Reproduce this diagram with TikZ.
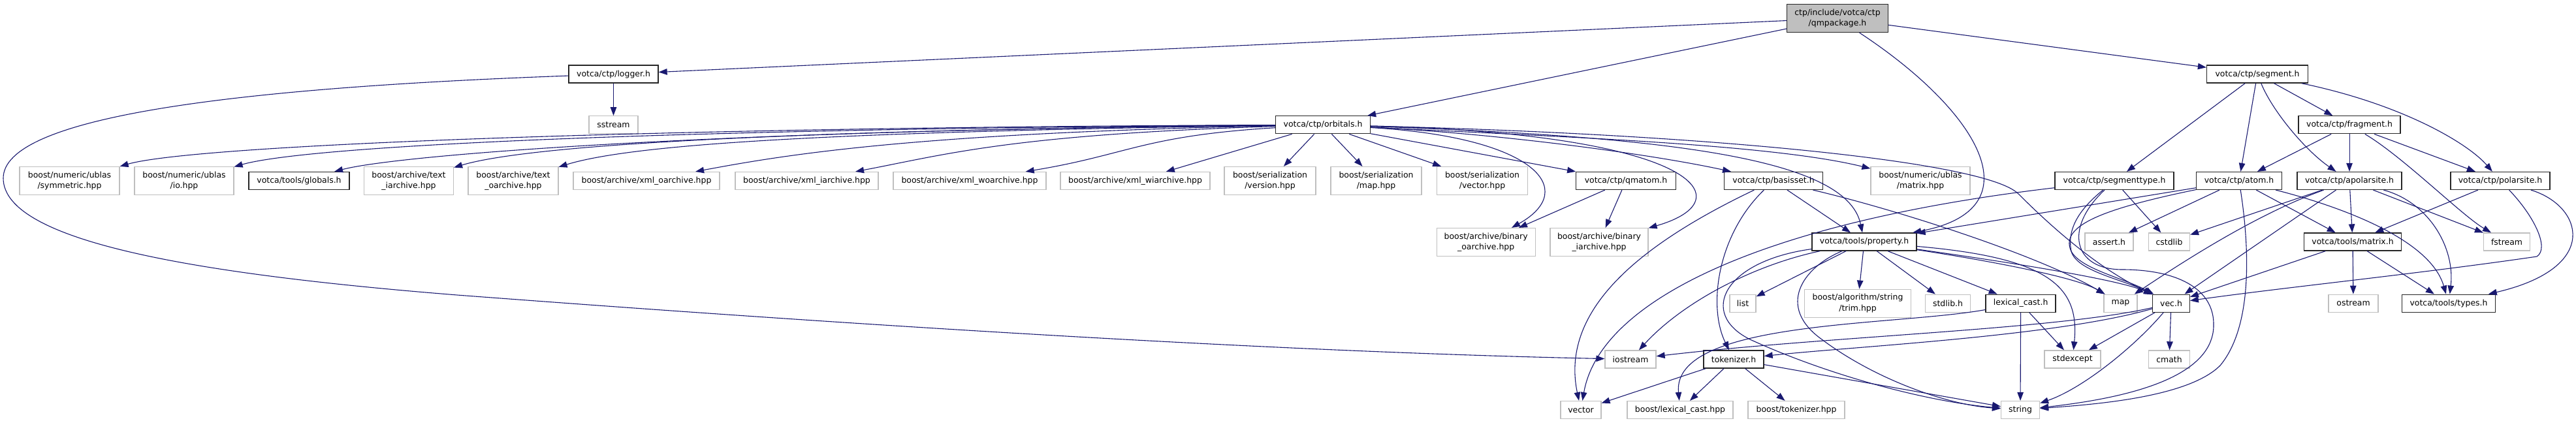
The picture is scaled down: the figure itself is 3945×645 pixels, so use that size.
\documentclass[tikz,border=0pt]{standalone}
\usepackage{fontspec}
\setmainfont{DejaVu Sans}
\usetikzlibrary{arrows.meta}
\definecolor{edgec}{HTML}{191970}
\definecolor{extc}{HTML}{BFBFBF}
\begin{document}
\begin{tikzpicture}[x=1bp,y=-1bp,
  box/.style={rectangle, inner sep=0pt, align=center, fill=white, font=\fontsize{12.5}{16.5}\selectfont},
  ext/.style={box, draw=extc, line width=1.2bp},
  doc/.style={box, draw=black!85, line width=1.3bp},
  root/.style={box, draw=black!85, fill=extc, line width=1.3bp},
  one/.style={minimum height=27bp},
  two/.style={minimum height=43bp},
  conn/.style={draw=edgec, line width=1.1bp, -{Triangle[length=13bp,width=9.5bp]}}
]
\useasboundingbox (0,0) rectangle (3945,645);
% row 0
\node[root,two,minimum width=154.5bp] (qm) at (2814,28) {ctp/include/votca/ctp\\/qmpackage.h};
% row 1
\node[doc,one,minimum width=137bp] (logger) at (939.5,113.6) {votca/ctp/logger.h};
\node[doc,one,minimum width=155bp] (segment) at (3457,113.6) {votca/ctp/segment.h};
% row 2
\node[ext,one,minimum width=75bp] (sstream) at (939.5,191.3) {sstream};
\node[doc,one,minimum width=145bp] (orbitals) at (2026,191.3) {votca/ctp/orbitals.h};
\node[doc,one,minimum width=156bp] (fragment) at (3598,191.3) {votca/ctp/fragment.h};
% row 3
\node[ext,two,minimum width=153bp] (symmetric) at (106.5,277) {boost/numeric/ublas\\/symmetric.hpp};
\node[ext,two,minimum width=152bp] (io) at (282,277) {boost/numeric/ublas\\/io.hpp};
\node[doc,one,minimum width=154bp] (globals) at (458,277) {votca/tools/globals.h};
\node[ext,two,minimum width=137bp] (textia) at (626,277) {boost/archive/text\\\_iarchive.hpp};
\node[ext,two,minimum width=138bp] (textoa) at (786,277) {boost/archive/text\\\_oarchive.hpp};
\node[ext,one,minimum width=224bp] (xmloa) at (990,277) {boost/archive/xml\_oarchive.hpp};
\node[ext,one,minimum width=219bp] (xmlia) at (1235.5,277) {boost/archive/xml\_iarchive.hpp};
\node[ext,one,minimum width=234bp] (xmlwoa) at (1485,277) {boost/archive/xml\_woarchive.hpp};
\node[ext,one,minimum width=229bp] (xmlwia) at (1738.5,277) {boost/archive/xml\_wiarchive.hpp};
\node[ext,two,minimum width=140bp] (version) at (1945,277) {boost/serialization\\/version.hpp};
\node[ext,two,minimum width=139bp] (maphpp) at (2107.5,277) {boost/serialization\\/map.hpp};
\node[ext,two,minimum width=139bp] (vectorhpp) at (2270,277) {boost/serialization\\/vector.hpp};
\node[doc,one,minimum width=152.5bp] (qmatom) at (2490,277) {votca/ctp/qmatom.h};
\node[doc,one,minimum width=151bp] (basisset) at (2716,277) {votca/ctp/basisset.h};
\node[ext,two,minimum width=152bp] (ublasmatrix) at (2941,277) {boost/numeric/ublas\\/matrix.hpp};
\node[doc,one,minimum width=182bp] (segmenttype) at (3238,277) {votca/ctp/segmenttype.h};
\node[doc,one,minimum width=130.5bp] (atom) at (3429,277) {votca/ctp/atom.h};
\node[doc,one,minimum width=160bp] (apolarsite) at (3598,277) {votca/ctp/apolarsite.h};
\node[doc,one,minimum width=152bp] (polarsite) at (3829,277) {votca/ctp/polarsite.h};
% row 4
\node[ext,two,minimum width=151bp] (binoa) at (2275.6,371) {boost/archive/binary\\\_oarchive.hpp};
\node[ext,two,minimum width=150bp] (binia) at (2449,371) {boost/archive/binary\\\_iarchive.hpp};
\node[doc,one,minimum width=160bp] (property) at (2855,370.5) {votca/tools/property.h};
\node[ext,one,minimum width=74bp] (assert) at (3230,370.5) {assert.h};
\node[ext,one,minimum width=63bp] (cstdlib) at (3322,370.5) {cstdlib};
\node[doc,one,minimum width=149bp] (matrixh) at (3603,370.5) {votca/tools/matrix.h};
\node[ext,one,minimum width=71bp] (fstream) at (3839,370.5) {fstream};
% row 5
\node[ext,one,minimum width=40bp] (list) at (2669,464.7) {list};
\node[ext,two,minimum width=163bp] (trim) at (2845,464.7) {boost/algorithm/string\\/trim.hpp};
\node[ext,one,minimum width=69bp] (stdlib) at (2983,464.7) {stdlib.h};
\node[doc,one,minimum width=107bp] (lexcasth) at (3094.6,464.7) {lexical\_cast.h};
\node[ext,one,minimum width=51bp] (map) at (3247.5,464.7) {map};
\node[doc,one,minimum width=56.5bp] (vech) at (3325,464.7) {vec.h};
\node[ext,one,minimum width=76bp] (ostream) at (3604,464.7) {ostream};
\node[doc,one,minimum width=143bp] (types) at (3750,464.7) {votca/tools/types.h};
% row 6
\node[ext,one,minimum width=78bp] (iostream) at (2497,550.4) {iostream};
\node[doc,one,minimum width=92bp] (tokenizer) at (2655,550.4) {tokenizer.h};
\node[ext,one,minimum width=86bp] (stdexcept) at (3174,550.4) {stdexcept};
\node[ext,one,minimum width=63bp] (cmath) at (3322,550.4) {cmath};
% row 7
\node[ext,one,minimum width=62bp] (vector) at (2421,628) {vector};
\node[ext,one,minimum width=162bp] (lexcasthpp) at (2573,628) {boost/lexical\_cast.hpp};
\node[ext,one,minimum width=148bp] (boosttok) at (2751,628) {boost/tokenizer.hpp};
\node[ext,one,minimum width=59bp] (string) at (3094,628) {string};

% qmpackage
\draw[conn] (qm) -- (logger);
\draw[conn] (qm) -- (orbitals);
\draw[conn] (qm) .. controls (3030,170) and (3120,320) .. (property);
\draw[conn] (qm) -- (segment);
% logger
\draw[conn] (logger) -- (sstream);
\draw[conn] (logger) .. controls (350,135) and (5,180) .. (5,273) .. controls (5,370) and (300,420) .. (700,452) .. controls (1400,505) and (2000,540) .. (iostream);
% orbitals
\draw[conn] (orbitals) .. controls (1000,195) and (298,222) .. (symmetric);
\draw[conn] (orbitals) .. controls (1050,197) and (477,222) .. (io);
\draw[conn] (orbitals) .. controls (1100,199) and (611,237) .. (globals);
\draw[conn] (orbitals) .. controls (1150,200) and (803,224.5) .. (textia);
\draw[conn] (orbitals) .. controls (1250,202) and (966,222) .. (textoa);
\draw[conn] (orbitals) .. controls (1400,204) and (1203,237) .. (xmloa);
\draw[conn] (orbitals) .. controls (1550,206) and (1447,237) .. (xmlia);
\draw[conn] (orbitals) .. controls (1750,208) and (1728,237) .. (xmlwoa);
\draw[conn] (orbitals) -- (xmlwia);
\draw[conn] (orbitals) -- (version);
\draw[conn] (orbitals) -- (maphpp);
\draw[conn] (orbitals) -- (vectorhpp);
\draw[conn] (orbitals) -- (qmatom);
\draw[conn] (orbitals) .. controls (2300,205) and (2530,236.5) .. (basisset);
\draw[conn] (orbitals) .. controls (2400,210) and (2713,221) .. (ublasmatrix);
\draw[conn] (orbitals) .. controls (2350,210) and (2420,290) .. (binoa);
\draw[conn] (orbitals) .. controls (2600,205) and (2674,306.5) .. (binia);
\draw[conn] (orbitals) .. controls (2600,210) and (2830,250) .. (property);
\draw[conn] (orbitals) .. controls (2600,205) and (3040,246) .. (3091,297) .. controls (3140,346) and (3211,410) .. (vech);
% qmatom
\draw[conn] (qmatom) -- (binoa);
\draw[conn] (qmatom) -- (binia);
% basisset
\draw[conn] (basisset) -- (property);
\draw[conn] (basisset) .. controls (2500,380) and (2390,480) .. (vector);
\draw[conn] (basisset) .. controls (2630,360) and (2615,470) .. (tokenizer);
\draw[conn] (basisset) .. controls (2900,320) and (3120,390) .. (map);
% segment
\draw[conn] (segment) -- (segmenttype);
\draw[conn] (segment) -- (atom);
\draw[conn] (segment) .. controls (3480,170) and (3530,230) .. (apolarsite);
\draw[conn] (segment) -- (fragment);
\draw[conn] (segment) .. controls (3680,160) and (3780,220) .. (polarsite);
% fragment
\draw[conn] (fragment) -- (atom);
\draw[conn] (fragment) -- (apolarsite);
\draw[conn] (fragment) -- (polarsite);
\draw[conn] (fragment) .. controls (3680,240) and (3770,330) .. (fstream);
% segmenttype
\draw[conn] (segmenttype) .. controls (2700,340) and (2450,460) .. (vector);
\draw[conn] (segmenttype) -- (cstdlib);
\draw[conn] (segmenttype) .. controls (3185,320) and (3165,350) .. (3172,385) .. controls (3180,415) and (3250,428) .. (vech);
\draw[conn] (segmenttype) .. controls (3160,350) and (3175,413) .. (3250,413) .. controls (3330,413) and (3392,440) .. (3390,500) .. controls (3388,565) and (3300,605) .. (string);
% atom
\draw[conn] (atom) -- (property);
\draw[conn] (atom) .. controls (3220,320) and (3160,345) .. (3170,380) .. controls (3178,410) and (3250,425) .. (vech);
\draw[conn] (atom) -- (matrixh);
\draw[conn] (atom) .. controls (3560,310) and (3720,360) .. (types);
\draw[conn] (atom) -- (assert);
\draw[conn] (atom) .. controls (3445,380) and (3450,500) .. (3400,560) .. controls (3350,610) and (3200,620) .. (string);
% apolarsite
\draw[conn] (apolarsite) -- (cstdlib);
\draw[conn] (apolarsite) .. controls (3450,330) and (3330,410) .. (map);
\draw[conn] (apolarsite) -- (vech);
\draw[conn] (apolarsite) -- (matrixh);
\draw[conn] (apolarsite) -- (fstream);
\draw[conn] (apolarsite) .. controls (3720,310) and (3760,380) .. (types);
% polarsite
\draw[conn] (polarsite) -- (matrixh);
\draw[conn] (polarsite) .. controls (3880,330) and (3905,380) .. (3885,393) .. controls (3700,420) and (3500,440) .. (vech);
\draw[conn] (polarsite) .. controls (3955,315) and (3985,410) .. (types);
% matrix.h
\draw[conn] (matrixh) -- (vech);
\draw[conn] (matrixh) -- (ostream);
\draw[conn] (matrixh) -- (types);
% property
\draw[conn] (property) -- (list);
\draw[conn] (property) -- (trim);
\draw[conn] (property) -- (stdlib);
\draw[conn] (property) -- (lexcasth);
\draw[conn] (property) .. controls (3050,400) and (3180,425) .. (map);
\draw[conn] (property) .. controls (3100,405) and (3250,430) .. (vech);
\draw[conn] (property) .. controls (3140,395) and (3185,440) .. (stdexcept);
\draw[conn] (property) .. controls (2690,405) and (2580,460) .. (iostream);
\draw[conn] (property) .. controls (2640,400) and (2600,480) .. (2680,520) .. controls (2800,575) and (2950,615) .. (string);
\draw[conn] (property) .. controls (2760,410) and (2720,470) .. (2790,520) .. controls (2870,580) and (2980,620) .. (string);
% lexical_cast.h
\draw[conn] (lexcasth) -- (string);
\draw[conn] (lexcasth) -- (stdexcept);
\draw[conn] (lexcasth) .. controls (2900,500) and (2560,490) .. (lexcasthpp);
% vec.h
\draw[conn] (vech) -- (cmath);
\draw[conn] (vech) -- (stdexcept);
\draw[conn] (vech) .. controls (3270,530) and (3190,595) .. (string);
\draw[conn] (vech) .. controls (3150,505) and (2800,515) .. (iostream);
\draw[conn] (vech) .. controls (3150,515) and (2850,530) .. (tokenizer);
% tokenizer
\draw[conn] (tokenizer) -- (vector);
\draw[conn] (tokenizer) -- (lexcasthpp);
\draw[conn] (tokenizer) -- (boosttok);
\draw[conn] (tokenizer) -- (string);
\end{tikzpicture}
\end{document}
